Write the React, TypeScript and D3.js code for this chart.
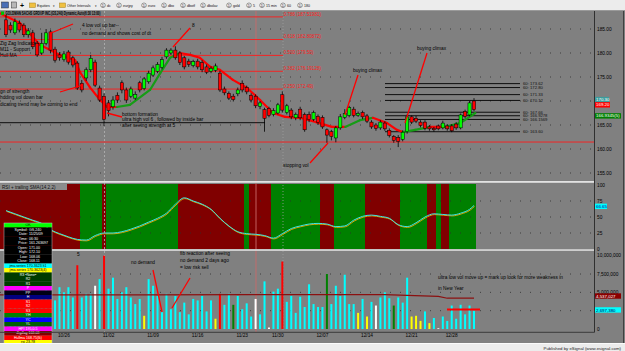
import React, { useEffect, useRef } from 'react';
import * as d3 from 'd3';

// GS 240 min bars, mid Oct 09 -> 12/31/09, [open, high, low, close]
const candles = [
  [186.9, 187.9, 183.3, 183.8], [185.8, 186.4, 184.2, 184.8], [184.2, 187.2, 183.8, 186.5], [186.2, 186.8, 184.3, 184.8],
  [185.8, 186.2, 183.3, 183.8], [183.8, 185.2, 183.2, 184.6], [184.2, 184.8, 180.8, 181.3], [182.0, 182.5, 179.2, 179.6],
  [180.0, 184.2, 179.6, 182.0], [182.0, 185.0, 181.6, 184.2], [184.4, 184.8, 180.0, 180.6], [180.8, 181.3, 178.0, 178.5],
  [179.6, 180.2, 178.4, 179.0], [178.6, 180.4, 178.2, 179.8], [180.2, 180.6, 177.6, 178.1], [179.0, 179.4, 177.0, 177.5],
  [177.9, 178.3, 172.3, 172.7], [173.7, 174.4, 171.8, 172.3], [174.8, 177.0, 174.2, 176.5], [176.5, 179.6, 176.0, 178.9],
  [178.1, 178.6, 172.9, 173.3], [172.7, 173.2, 169.8, 170.2], [171.0, 171.6, 164.8, 166.2], [169.6, 170.2, 166.8, 168.0],
  [168.8, 171.0, 168.2, 170.2], [171.2, 171.8, 169.6, 170.2], [173.8, 174.3, 171.6, 172.3], [172.3, 172.8, 169.6, 170.2],
  [171.0, 173.0, 170.6, 172.5], [170.6, 172.0, 170.2, 171.4], [173.8, 174.2, 171.8, 172.3], [172.6, 175.0, 172.2, 174.6],
  [174.0, 176.3, 173.6, 175.8], [175.4, 177.4, 175.0, 176.9], [176.2, 178.1, 175.8, 177.6], [177.0, 179.2, 176.6, 178.6],
  [179.2, 181.0, 178.8, 180.6], [180.0, 181.0, 179.6, 180.6], [180.6, 181.4, 178.6, 179.0], [180.0, 180.4, 177.5, 178.0],
  [179.0, 179.4, 176.6, 177.1], [178.3, 178.8, 177.1, 177.6], [177.4, 178.6, 177.0, 178.2], [178.3, 178.8, 176.6, 177.1],
  [178.0, 178.5, 176.0, 176.5], [177.1, 177.6, 175.6, 176.0], [176.2, 177.2, 175.8, 176.8], [176.4, 177.8, 176.0, 177.3],
  [175.8, 176.3, 171.9, 172.3], [172.5, 173.0, 171.2, 171.7], [171.6, 172.0, 170.2, 170.6], [171.0, 171.5, 169.9, 170.3],
  [171.5, 172.8, 171.0, 172.3], [173.7, 174.3, 171.8, 172.3], [172.8, 173.2, 171.4, 171.9], [171.2, 171.6, 169.7, 170.2],
  [171.0, 171.4, 168.5, 169.0], [168.9, 170.0, 168.3, 169.6], [168.2, 168.6, 163.6, 166.4], [168.4, 168.8, 166.6, 167.0],
  [167.2, 168.5, 166.8, 168.0], [167.5, 169.6, 167.2, 169.2], [171.3, 172.0, 167.6, 168.1], [167.6, 169.4, 167.2, 169.0],
  [168.1, 168.5, 166.2, 166.7], [166.5, 167.6, 166.0, 167.2], [168.3, 168.8, 166.0, 166.5], [167.2, 167.6, 163.6, 164.0],
  [167.2, 167.8, 165.6, 166.1], [166.2, 168.0, 165.8, 167.6], [166.8, 167.2, 165.0, 165.5], [166.6, 167.0, 164.2, 164.6],
  [164.0, 164.3, 161.3, 162.9], [163.6, 164.0, 161.8, 162.6], [162.3, 164.8, 161.4, 164.4], [164.4, 167.3, 164.0, 166.7],
  [166.6, 168.3, 166.2, 167.4], [167.0, 169.0, 166.6, 168.6], [168.3, 168.8, 166.6, 167.0], [167.0, 167.8, 166.7, 167.4],
  [167.6, 168.0, 166.2, 166.7], [166.9, 167.3, 165.4, 165.8], [165.6, 166.0, 164.2, 164.6], [165.0, 165.4, 163.8, 164.3],
  [164.4, 166.0, 164.0, 165.6], [165.4, 165.8, 163.8, 164.2], [163.9, 164.3, 162.4, 162.8], [162.6, 162.9, 161.3, 161.8],
  [162.4, 162.9, 160.4, 161.6], [162.0, 163.9, 161.6, 163.5], [163.6, 167.2, 163.2, 166.7], [166.7, 167.0, 165.2, 165.6],
  [166.4, 166.9, 165.4, 165.8], [165.6, 166.0, 164.5, 164.9], [165.6, 166.0, 163.9, 164.3], [164.6, 165.0, 163.8, 164.2],
  [164.3, 164.6, 163.6, 164.0], [164.8, 165.1, 163.9, 164.2], [164.4, 165.9, 164.1, 165.4], [164.8, 165.2, 163.8, 164.2],
  [164.8, 165.2, 163.5, 163.8], [165.2, 165.6, 164.0, 164.4], [164.4, 167.4, 164.1, 167.1], [167.8, 168.2, 166.4, 166.8],
  [167.1, 170.0, 166.8, 169.6], [170.0, 170.6, 167.9, 168.2],
];

// volume per bar, millions
const volume = [
  5.9, 4.5, 5.0, 3.8, 6.2, 4.4, 5.1, 3.9, 4.6, 5.3, 4.2,
  3.9, 5.7, 5.0, 5.7, 4.3, 8.7, 4.3, 4.8, 4.8, 5.9, 6.8, 10.0, 5.5, 7.0, 4.1, 5.0, 5.7, 4.3, 3.4, 4.1,
  1.8, 6.8, 5.9, 4.5, 2.3, 4.8, 2.7, 4.5, 2.3, 3.6, 2.0, 4.1, 3.9,
  4.5, 2.4, 3.9, 1.4, 4.8, 3.3, 4.8, 3.3, 4.5, 2.7, 3.5, 1.7, 4.1, 2.0, 6.5, 0.2, 5.1, 5.5, 9.2, 3.7,
  4.5, 2.2, 4.4, 3.0, 6.1, 3.4, 3.0, 3.0, 7.5, 3.4, 5.9, 4.5, 7.4, 3.4, 3.4, 2.2, 4.1, 1.7, 3.7, 3.2,
  4.3, 5.0, 4.2, 3.2, 4.3, 3.6, 7.0, 1.7, 1.8,
  1.1, 2.4, 0.8, 1.5, 0.1, 1.7, 1.1, 3.2, 1.4, 3.3, 2.0, 3.2, 2.5,
];
// bar colour per volume bar: c cyan, r red, y yellow, w white, g green
const volumeColors = (
  'rcccccccccccccccrcccwcrccccccccy' +
  'cccccccccccccccyrccgccccwccwccr' +
  'cccccccccgccccccycycwcccgcccyyycycwcccccccc'
).split('');

// volume average [bar, millions]
const volumeAvg = [[-1.5, 4.65], [30, 4.65], [55, 4.7], [85, 4.7], [90, 4.6], [97, 4.45], [99, 4.2], [105, 4.2]];

// RSI, read every other bar
const rsi = [60, 55, 50, 45, 40, 30, 24, 19, 15, 14, 21, 25, 25, 27, 31, 36, 42, 48, 56, 70, 80, 75, 70, 62, 48, 36, 27,
  24, 23, 21, 17, 24, 32, 36, 39, 40, 39, 35, 36, 45, 51, 53, 51, 48, 38, 35, 41, 50, 55, 54, 53, 56, 62, 68];
// rsi background per bar, r = dark red, g = green
const rsiZones = (
  'rrrrrrrrrrrrrrrrrgggggrggggggggggggggggrrrrrrrrrrrrrrr' +
  'grrrrrgggggggggggrrrgggggggrrrrrrrrggggggrrgrrgggggg'
).split('');

// Hull MA readings [bar, price]
const hullMa = [
  [-1.4, 188.3], [3.1, 186.25], [7.6, 181.7], [12.1, 179.6], [15.5, 178.5], [16.6, 176.0], [18.8, 172.9],
  [21.1, 170.2], [22.7, 168.75], [24.9, 168.75], [27.8, 169.2], [32.3, 172.3], [34.6, 175.8], [36.8, 179.0],
  [39.0, 180.0], [41.3, 179.6], [43.5, 179.0], [45.8, 177.1], [48.0, 176.5], [50.9, 174.4], [54.1, 172.7],
  [57.0, 170.2], [59.9, 167.5], [62.6, 166.7], [66.0, 166.5], [69.6, 165.6], [73.1, 164.6], [76.1, 164.6],
  [79.4, 166.0], [82.3, 166.5], [85.5, 165.4], [87.7, 164.0], [89.1, 163.5], [91.8, 164.0], [95.1, 164.6],
  [98.5, 164.6], [101.9, 165.4], [105.3, 167.5],
];

const fibPrices = [187.51981, 182.80872, 179.5, 176.19128, 172.49];
const fibLabels = ['0.786 (187.51981)', '0.618 (182.80872)', '0.500 (179.50)', '0.382 (176.19128)', '0.250 (172.49)'];
const extPrices = [173.62, 172.8, 171.33, 170.12, 167.66, 166.9278, 166.1569, 163.6];
const extLabels = ['60: 173.62', '60: 172.80', '60: 171.33', '60: 170.12', '60: 167.66', '60: 166.9278', '60: 166.1569', '60: 163.60'];

// 170.00 and 2,500,000 sit under the value tags, so only their grid lines show
const priceTicks = [155, 160, 165, 170, 175, 180, 185];
const priceLabelTicks = [155, 160, 165, 175, 180, 185];
const rsiTicks = [0, 25, 50, 75, 100];
const volTicks = [0, 2.5, 5, 7.5, 10];
const volLabelTicks = [0, 5, 7.5, 10];
const volTickLabels = ['0', '5,000,000', '7,500,000', '10,000,000'];
const dateBars = [13, 23, 33, 43, 53, 61, 71, 81, 91, 100];
const dateLabels = ['10/26', '11/02', '11/09', '11/16', '11/23', '11/30', '12/07', '12/14', '12/21', '12/28'];

const boxLabels = ['OK', 'Symbol:', 'Date:', 'Time:', 'Price:', 'Open:', 'High:', 'Low:', 'Close:', 'jma.series',
  'jma.series', 'R3', 'R2', 'R1', 'P', 'PP', 'H', 'S1', 'S2', 'S3', 'YH', 'YC', 'YL', 'HPI', 'ZigZag', 'Hullma', 'rsi'];
const boxValues = ['', 'GS,240', '11/25/09', '06:30', '161.263697', '171.00', '172.10', '168.06', '168.11', '170.3623 lt1',
  '170.3623(4)', '\u2022None\u2022', '', '', '', '', '', '', '', '', '', '', '', '195,0.5', '168.08', '168.75(lk)', '23.78'];
const boxFills = ['#00ff00', '#000', '#000', '#000', '#000', '#000', '#000', '#000', '#000', '#00ffff', '#ffff00',
  '#003c00', '#003c00', '#003c00', '#ff00ff', '#000014', '#000080', '#ff0000', '#ff0000', '#ff0000', '#008000',
  '#0000ff', '#006000', '#ff00ff', '#800000', '#ff0000', '#ffff00'];

const toolbarLinks = ['dc', 'eurjpy', 'euro', 'dbo', 'dbotf', 'dbolav', 'gold', '5', '15 min', '60', '180'];
const toolbarX = [103, 119, 144, 164, 183, 203, 229, 249, 262, 283, 300];

const FONT = "'Liberation Sans', Arial, sans-serif";

const App = () => {
  const svgRef = useRef(null);

  useEffect(() => {
    const W = 625;
    const H = 351;
    const svg = d3.select(svgRef.current);
    svg.selectAll('*').remove();
    svg.attr('width', W).attr('height', H).style('font-family', FONT);

    const x = d3.scaleLinear().domain([0, 105]).range([6, 474]);
    const yP = d3.scaleLinear().domain([155, 185]).range([173, 29]);
    const yR = d3.scaleLinear().domain([0, 100]).range([249, 185]);
    const yV = d3.scaleLinear().domain([0, 10]).range([329, 255.7]);
    const axisX = 594.5;

    svg.append('rect').attr('width', W).attr('height', H).attr('fill', '#808080');

    // toolbar
    const tb = svg.append('g');
    tb.append('rect').attr('width', W).attr('height', 10.5).attr('fill', '#ececec');
    tb.append('line').attr('x1', 0).attr('x2', W).attr('y1', 10.5).attr('y2', 10.5).attr('stroke', '#9a9a9a');
    tb.append('rect').attr('x', 1.5).attr('y', 2).attr('width', 7).attr('height', 6).attr('fill', '#4a6fb5').attr('stroke', '#333').attr('stroke-width', 0.5);
    tb.append('rect').attr('x', 11.5).attr('y', 2).attr('width', 5).attr('height', 6).attr('fill', '#b8b8b8').attr('stroke', '#333').attr('stroke-width', 0.5);
    tb.append('text').attr('x', 20).attr('y', 7.8).attr('font-size', 7).attr('font-weight', 'bold').text('+');
    [[29.5, 'Equities', 53], [59.5, 'Other Intervals', 95]].forEach(([fx, label, ax]) => {
      tb.append('rect').attr('x', fx).attr('y', 3).attr('width', 6).attr('height', 4.5).attr('fill', '#f0c040').attr('stroke', '#a08020').attr('stroke-width', 0.5);
      tb.append('text').attr('x', fx + 7.5).attr('y', 7).attr('font-size', 3.6).attr('fill', '#111').text(label);
      tb.append('text').attr('x', ax).attr('y', 7).attr('font-size', 3.4).attr('fill', '#111').text('\u25BE');
    });
    toolbarLinks.forEach((t, k) => {
      const cx = toolbarX[k];
      tb.append('circle').attr('cx', cx).attr('cy', 5.3).attr('r', 2.3).attr('fill', '#fff').attr('stroke', '#333').attr('stroke-width', 0.5);
      tb.append('text').attr('x', cx).attr('y', 6.5).attr('font-size', 3).attr('text-anchor', 'middle').text('D');
      tb.append('text').attr('x', cx + 4).attr('y', 7).attr('font-size', 3.6).attr('fill', '#111').text(t);
    });

    // RSI zones, one rect per run of equal state
    const rz = svg.append('g');
    let start = 0;
    rsiZones.forEach((z, i) => {
      if (i < rsiZones.length - 1 && rsiZones[i + 1] === z) return;
      const x0 = start === 0 ? 0 : x(start - 0.5);
      const x1 = x(i + 0.5);
      rz.append('rect').attr('x', x0).attr('y', 183.5).attr('width', x1 - x0).attr('height', 65.5)
        .attr('fill', z === 'g' ? '#008000' : '#800000').attr('shape-rendering', 'crispEdges');
      start = i + 1;
    });

    // grid
    const grid = svg.append('g').attr('stroke', '#2e2e2e').attr('stroke-width', 0.8).attr('stroke-dasharray', '1,9');
    priceTicks.forEach(t => grid.append('line').attr('x1', 0).attr('x2', axisX).attr('y1', yP(t)).attr('y2', yP(t)));
    rsiTicks.slice(1, 4).forEach(t => grid.append('line').attr('x1', 0).attr('x2', axisX).attr('y1', yR(t)).attr('y2', yR(t)));
    volTicks.slice(1, 4).forEach(t => grid.append('line').attr('x1', 0).attr('x2', axisX).attr('y1', yV(t)).attr('y2', yV(t)));

    // vertical markers
    svg.append('line').attr('x1', 104.5).attr('x2', 104.5).attr('y1', 11).attr('y2', 332).attr('stroke', '#b4b4b4').attr('stroke-dasharray', '2,2').attr('stroke-width', 0.8);
    svg.append('line').attr('x1', 283).attr('x2', 283).attr('y1', 11).attr('y2', 332).attr('stroke', '#a0a0a0').attr('stroke-dasharray', '1,2').attr('stroke-width', 0.8);
    svg.append('line').attr('x1', 256).attr('x2', 256).attr('y1', 11).attr('y2', 332).attr('stroke', '#c86a6a').attr('stroke-width', 0.9);

    // fib retracement and extension lines
    const fib = svg.append('g');
    fibPrices.forEach((p, k) => {
      fib.append('line').attr('x1', 0).attr('x2', 283).attr('y1', yP(p)).attr('y2', yP(p)).attr('stroke', '#ff1a1a').attr('stroke-width', 0.9);
      fib.append('text').attr('x', 283.5).attr('y', yP(p) - 1.3).attr('font-size', 4.6).attr('fill', '#ff2020').text(fibLabels[k]);
    });
    fib.append('line').attr('x1', 0).attr('x2', 265).attr('y1', yP(165.48)).attr('y2', yP(165.48)).attr('stroke', '#000').attr('stroke-width', 0.9);
    fib.append('line').attr('x1', 0).attr('x2', axisX).attr('y1', yP(161.45)).attr('y2', yP(161.45)).attr('stroke', '#ff1a1a').attr('stroke-width', 0.9);
    extPrices.forEach((p, k) => {
      fib.append('line').attr('x1', 385).attr('x2', 520).attr('y1', yP(p)).attr('y2', yP(p)).attr('stroke', '#000').attr('stroke-width', 0.9);
      fib.append('text').attr('x', 523).attr('y', yP(p) + 1.5).attr('font-size', 4.2).attr('fill', '#111').text(extLabels[k]);
    });

    // Hull MA
    const hull = svg.append('g').attr('stroke-width', 2.2).attr('stroke-linecap', 'round');
    for (let k = 0; k < hullMa.length - 1; k++) {
      const [b0, p0] = hullMa[k];
      const [b1, p1] = hullMa[k + 1];
      hull.append('line').attr('x1', x(b0)).attr('y1', yP(p0)).attr('x2', x(b1)).attr('y2', yP(p1))
        .attr('stroke', p1 > p0 ? '#169c16' : '#ff0000');
    }

    // candles
    const cg = svg.append('g');
    cg.selectAll('line').data(candles).join('line')
      .attr('x1', (d, i) => x(i)).attr('x2', (d, i) => x(i))
      .attr('y1', d => yP(d[1])).attr('y2', d => yP(d[2]))
      .attr('stroke', '#000').attr('stroke-width', 0.8);
    cg.selectAll('rect').data(candles).join('rect')
      .attr('x', (d, i) => x(i) - 1.6).attr('width', 3.2)
      .attr('y', d => yP(Math.max(d[0], d[3])))
      .attr('height', d => Math.max(0.8, Math.abs(yP(d[0]) - yP(d[3]))))
      .attr('fill', d => (d[3] >= d[0] ? '#00ff00' : '#ff0000'))
      .attr('stroke', '#000').attr('stroke-width', 0.5);

    // title
    svg.append('rect').attr('x', 1).attr('y', 11.5).attr('width', 3).attr('height', 3.5).attr('fill', '#00c000');
    svg.append('text').attr('x', 5.5).attr('y', 15.3).attr('font-size', 4.8).attr('font-weight', 'bold')
      .attr('textLength', 95).attr('lengthAdjust', 'spacingAndGlyphs')
      .text('GOLDMAN SACHS GROUP INC.(GS,240) Dynamic,Auto(6:30 13:00)');

    // RSI pane
    svg.append('rect').attr('x', 0).attr('y', 183.5).attr('width', 67).attr('height', 6.5).attr('fill', '#8c8c8c');
    svg.append('text').attr('x', 2).attr('y', 188.6).attr('font-size', 4.6).attr('fill', '#111').text('RSI + trailing SMA(14,2,2)');
    const rsiPts = rsi.map((v, k) => [Math.min(k * 2, 105), v]);
    const rsiLine = d3.line().x(d => x(d[0])).y(d => yR(d[1])).curve(d3.curveMonotoneX);
    svg.append('path').datum(rsiPts).attr('d', rsiLine).attr('fill', 'none').attr('stroke', '#e0a000')
      .attr('stroke-width', 1).attr('transform', 'translate(0.6,0.8)');
    svg.append('path').datum(rsiPts).attr('d', rsiLine).attr('fill', 'none').attr('stroke', '#3ce6e6').attr('stroke-width', 1);

    // pane separators
    svg.append('rect').attr('x', 0).attr('y', 181).attr('width', axisX).attr('height', 1.8).attr('fill', '#e2e2e2');
    svg.append('rect').attr('x', 0).attr('y', 249.3).attr('width', axisX).attr('height', 1.5).attr('fill', '#e2e2e2');

    // volume
    const colorOf = { c: '#00ffff', r: '#ff0000', y: '#ffff00', w: '#ffffff', g: '#008000' };
    svg.append('g').selectAll('rect').data(volume).join('rect')
      .attr('x', (d, i) => x(i) - 1).attr('width', 2)
      .attr('y', d => yV(d)).attr('height', d => yV(0) - yV(d))
      .attr('fill', (d, i) => colorOf[volumeColors[i]]);
    const avgLine = d3.line().x(d => x(d[0])).y(d => yV(d[1]));
    svg.append('path').datum(volumeAvg).attr('d', avgLine).attr('fill', 'none').attr('stroke', '#8b1010').attr('stroke-width', 1.2);
    svg.append('line').attr('x1', 447).attr('x2', 480).attr('y1', 309.5).attr('y2', 309.5).attr('stroke', '#ff0000').attr('stroke-width', 1.8);

    // annotations
    const notes = svg.append('g').attr('font-size', 4.8).attr('fill', '#000');
    const noteText = [
      [82, 27, '4 low vol up bar--'], [82, 34.5, 'no demand and shows cost of dt'], [192, 27, '8'],
      [0, 44.5, 'Zig Zag Indicator'], [0, 50.5, 'M11 - Support'], [0, 56.5, 'Hull MA'],
      [0, 92.5, 'gn of strength'], [0, 98.5, 'hdding vol down bar'], [0, 105.8, 'dicating trend may be coming to end'],
      [122, 115.8, 'bottom formation'], [122, 121.2, 'ultra high vol 6 , followed by inside bar'],
      [122, 126.8, 'after seeing strength at 5'], [353, 72, 'buying climax'], [417, 50, 'buying climax'],
      [283, 166.5, 'stopping vol'],
      [131, 263.5, 'no demand'], [180, 255, 'fib reaction after seeing'], [180, 262, 'no demand 2 days ago'],
      [180, 269, '= low risk sell'], [438, 278.5, 'ultra low vol move up = mark up look for more weakness in'],
      [438, 290, 'in New Year'], [77, 256, '5'],
    ];
    noteText.forEach(([nx, ny, t]) => notes.append('text').attr('x', nx).attr('y', ny).text(t));
    const arrows = svg.append('g').attr('stroke', '#ff0000').attr('stroke-width', 1.3);
    [[51, 33, 73, 24], [173, 47, 190, 28], [60, 92, 83, 85], [107, 113, 122, 117],
      [358, 75, 345, 115], [427, 53, 405, 123], [310, 163, 328, 143], [153, 270, 162, 312], [172, 308, 190, 278]]
      .forEach(([x1, y1, x2, y2]) => arrows.append('line').attr('x1', x1).attr('y1', y1).attr('x2', x2).attr('y2', y2));

    // data window
    const box = svg.append('g').attr('font-size', 3.6);
    const rowH = 4.5;
    boxLabels.forEach((lab, k) => {
      const ry = 223 + k * rowH;
      const fill = boxFills[k];
      const light = ['#00ff00', '#00ffff', '#ffff00'].includes(fill);
      box.append('rect').attr('x', 4).attr('y', ry).attr('width', 48).attr('height', rowH + 0.1).attr('fill', fill);
      const tc = light ? '#000' : '#fff';
      if (k >= 1 && k <= 8) {
        box.append('text').attr('x', 27.5).attr('y', ry + 3.4).attr('text-anchor', 'end').attr('fill', tc).text(lab);
        box.append('text').attr('x', 29).attr('y', ry + 3.4).attr('fill', tc).text(boxValues[k]);
      } else {
        box.append('text').attr('x', 28).attr('y', ry + 3.4).attr('text-anchor', 'middle').attr('fill', tc)
          .text(boxValues[k] ? `${lab} ${boxValues[k]}` : lab);
      }
    });
    box.append('rect').attr('x', 4).attr('y', 223).attr('width', 48).attr('height', rowH * boxLabels.length)
      .attr('fill', 'none').attr('stroke', '#c0c0c0').attr('stroke-width', 0.5);

    // frame and status bar
    svg.append('line').attr('x1', 0).attr('x2', axisX).attr('y1', 332.3).attr('y2', 332.3).attr('stroke', '#3a3a3a');
    svg.append('line').attr('x1', axisX).attr('x2', axisX).attr('y1', 11).attr('y2', 332.3).attr('stroke', '#303030');
    svg.append('line').attr('x1', 623.5).attr('x2', 623.5).attr('y1', 11).attr('y2', 343).attr('stroke', '#404040');
    svg.append('line').attr('x1', 0).attr('x2', W).attr('y1', 343.5).attr('y2', 343.5).attr('stroke', '#fafafa');
    svg.append('rect').attr('x', 0).attr('y', 344).attr('width', W).attr('height', 7).attr('fill', '#ececec');
    svg.append('text').attr('x', 621).attr('y', 349.8).attr('font-size', 4.3).attr('text-anchor', 'end').attr('fill', '#222')
      .text('Published by eSignal (www.esignal.com)');

    // axis labels
    const ax = svg.append('g').attr('font-size', 4.8).attr('fill', '#000');
    priceLabelTicks.forEach(t => ax.append('text').attr('x', 597).attr('y', yP(t) + 1.7).text(t.toFixed(2)));
    rsiTicks.forEach(t => ax.append('text').attr('x', 597).attr('y', yR(t) + 1.7).text(String(t)));
    volLabelTicks.forEach((t, k) => ax.append('text').attr('x', 597).attr('y', yV(t) + 1.7).text(volTickLabels[k]));
    dateBars.forEach((b, k) => ax.append('text').attr('x', x(b)).attr('y', 337).attr('text-anchor', 'middle').text(dateLabels[k]));

    // value tags on the right axis
    const tags = [
      [yP(170.3), 14, '#3c9c9c', '#fff', '170.30'], [yP(169.2), 15, '#ff0000', '#fff', '169.20'],
      [yP(166.9), 26, '#008000', '#fff', '166.9345(5)'], [yR(66.65), 12, '#00ffff', '#0000a0', '66.65'],
      [yV(4.5), 26, '#8b0000', '#fff', '4,537,027'], [yV(2.6), 26, '#00ffff', '#000060', '2,697,380'],
    ];
    tags.forEach(([ty, tw, bg, fg, t]) => {
      ax.append('rect').attr('x', 595).attr('y', ty - 2.7).attr('width', tw).attr('height', 5.4).attr('fill', bg);
      ax.append('text').attr('x', 596).attr('y', ty + 1.6).attr('font-size', 4.4).attr('fill', fg).text(t);
    });
  }, []);

  return (
    <svg ref={svgRef} style={{ position: 'absolute', left: 0, top: 0, display: 'block', backgroundColor: '#808080' }}></svg>
  );
};

export default App;
